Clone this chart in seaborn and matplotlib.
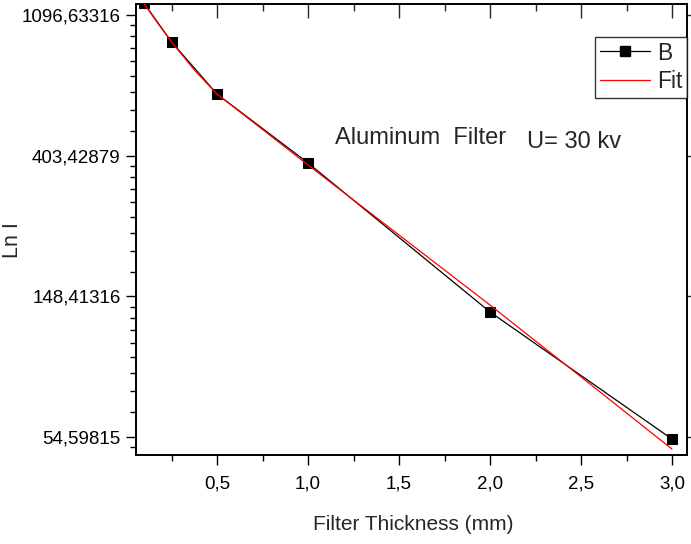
import numpy as np
import pandas as pd
import matplotlib
matplotlib.use("Agg")
import matplotlib.pyplot as plt
from matplotlib.ticker import FixedLocator, FuncFormatter
from matplotlib.lines import Line2D
import seaborn as sns

# data
thickness = [0.1, 0.25, 0.5, 1.0, 2.0, 3.0]
intensity = [1190, 906, 625, 383, 132.8, 53.8]

fit_x = [0.1, 0.175, 0.25, 0.375, 0.5, 0.75, 1.0, 1.5, 2.0, 2.5, 3.0]
fit_y = [1186, 1033, 906, 742, 625, 486, 377.5, 229.5, 139.5, 83.7, 50.1]

ytick_values = [54.59815, 148.41316, 403.42879, 1096.63316]
xtick_values = [0.5, 1.0, 1.5, 2.0, 2.5, 3.0]

sns.set_style("white")
plt.rcParams['font.family'] = ['Liberation Sans', 'DejaVu Sans']

fig = plt.figure(figsize=(6.91, 5.44), dpi=100)
ax = fig.add_axes([136/691, 1-455/544, (687-136)/691, (455-4)/544])

df = pd.DataFrame({"x": thickness, "y": intensity})
dfit = pd.DataFrame({"x": fit_x, "y": fit_y})

sns.lineplot(data=df, x="x", y="y", ax=ax, color="black", lw=0.9,
             marker="s", markersize=7, markeredgecolor="black", zorder=3,
             clip_on=True)
sns.lineplot(data=dfit, x="x", y="y", ax=ax, color="red", lw=0.9, zorder=4)

ax.set_yscale("log", base=np.e)
ax.set_xlim(0.0549, 3.0824)
ax.set_ylim(np.exp(3.872), np.exp(7.078))

# ticks
ax.xaxis.set_major_locator(FixedLocator(xtick_values))
ax.xaxis.set_minor_locator(FixedLocator([0.25 + 0.5 * i for i in range(6)]))
ax.xaxis.set_major_formatter(FuncFormatter(lambda v, p: f"{v:.1f}".replace('.', ',')))

ax.yaxis.set_major_locator(FixedLocator(ytick_values))
minors = []
for k in range(3, 8):
    a, b = np.exp(k), np.exp(k + 1)
    minors += [a + j * (b - a) / 9 for j in range(1, 9)]
ax.yaxis.set_minor_locator(FixedLocator(minors))
ax.yaxis.set_major_formatter(FuncFormatter(lambda v, p: f"{v:.5f}".replace('.', ',')))
ax.yaxis.set_minor_formatter(FuncFormatter(lambda v, p: ""))

ax.tick_params(axis="both", which="major", length=7, width=1, color="black",
               labelsize=13.5, labelcolor="black", pad=4)
ax.tick_params(axis="x", which="major", pad=8)
ax.tick_params(axis="both", which="minor", length=4, width=1, color="black")
ax.tick_params(axis="x", which="both", direction="out", bottom=True, top=False)
ax.tick_params(axis="y", which="both", direction="out", left=True, right=False)

# top ticks inward, right ticks outward (no labels)
axt = ax.secondary_xaxis("top")
axt.xaxis.set_major_locator(FixedLocator(xtick_values))
axt.xaxis.set_minor_locator(FixedLocator([0.25 + 0.5 * i for i in range(6)]))
axt.tick_params(which="major", direction="in", length=10, width=1, labeltop=False)
axt.tick_params(which="minor", direction="in", length=5, width=1)
axt.spines["top"].set_visible(False)

axr = ax.secondary_yaxis("right")
axr.yaxis.set_major_locator(FixedLocator(ytick_values))
axr.yaxis.set_minor_locator(FixedLocator([]))
axr.tick_params(which="major", direction="out", length=7, width=1, labelright=False)
axr.spines["right"].set_visible(False)

for s in ax.spines.values():
    s.set_visible(True)
    s.set_color("black")
    s.set_linewidth(1.4)

ax.set_xlabel("Filter Thickness (mm)", fontsize=15)
ax.xaxis.set_label_coords((413 - 136) / 551, (455 - 524) / 451)
ax.xaxis.label.set_verticalalignment("center")
ax.set_ylabel("Ln I", fontsize=15.5)
ax.yaxis.set_label_coords((13 - 136) / 551, (455 - 240) / 451)
ax.yaxis.label.set_verticalalignment("center")

ax.text(0.361, 0.703, "Aluminum  Filter", transform=ax.transAxes,
        fontsize=17, va="center", ha="left")
ax.text(0.7096, 0.694, "U= 30 kv", transform=ax.transAxes,
        fontsize=17, va="center", ha="left")

handles = [Line2D([], [], color="black", lw=0.9, marker="s", markersize=7),
           Line2D([], [], color="red", lw=0.9)]
leg = ax.legend(handles, ["B", "Fit"], loc="upper right",
                bbox_to_anchor=(1.0, 0.927), fontsize=16.5, frameon=True,
                fancybox=False, borderaxespad=0, handlelength=2.2,
                handletextpad=0.3, borderpad=0.2, labelspacing=0.25)
leg.get_frame().set_edgecolor("black")
leg.get_frame().set_linewidth(1.0)

fig.savefig("out.png", dpi=100)
